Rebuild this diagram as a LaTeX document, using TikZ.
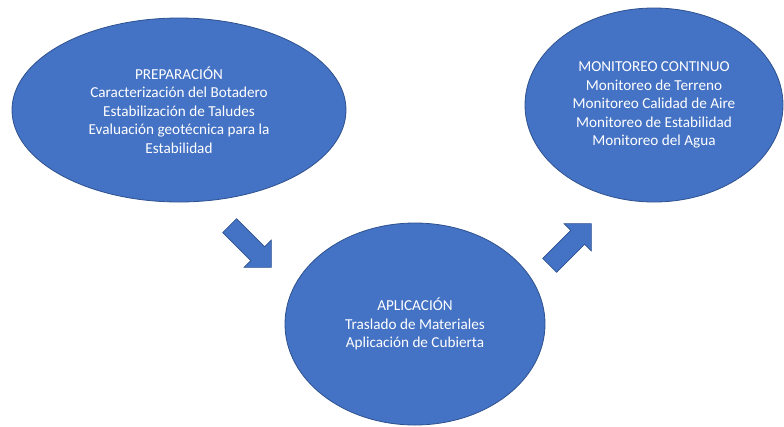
\documentclass[tikz,border=0pt]{standalone}
\usepackage{fontspec}
\setmainfont{Carlito}
\usetikzlibrary{shapes.geometric,shapes.arrows}
\definecolor{officeblue}{HTML}{4472C4}
\definecolor{officeedge}{HTML}{2F528F}
\tikzset{
  phase/.style={ellipse, fill=officeblue, draw=officeedge, line width=0.8pt,
    text=white, align=center, font=\fontsize{15.2}{18.4}\selectfont, inner sep=0pt},
  blockarrow/.style={single arrow, fill=officeblue, draw=officeedge, line width=0.6pt,
    single arrow tip angle=90, single arrow head extend=9.5pt,
    minimum height=59pt, minimum width=38pt, inner xsep=0pt, inner ysep=9.5pt,
    text height=0pt, text depth=0pt, anchor=center}
}
\begin{document}
\begin{tikzpicture}[x=1pt,y=-1pt]
\useasboundingbox (0,0) rectangle (784,426);
\fill[white] (0,0) rectangle (784,426);
\node[phase, minimum width=334pt, minimum height=184pt] (prep) at (179,110)
  {PREPARACIÓN\\Caracterización del Botadero\\Estabilización de Taludes\\Evaluación geotécnica para la\\Estabilidad};
\node[phase, minimum width=260pt, minimum height=202pt] (apl) at (415,324)
  {APLICACIÓN\\Traslado de Materiales\\Aplicación de Cubierta};
\node[phase, minimum width=258pt, minimum height=194pt] (mon) at (654,105)
  {MONITOREO CONTINUO\\Monitoreo de Terreno\\Monitoreo Calidad de Aire\\Monitoreo de Estabilidad\\Monitoreo del Agua};
\node[blockarrow, rotate=-45] (a1) at (247,243) {};
\node[blockarrow, rotate=45] (a2) at (567,248) {};
\end{tikzpicture}
\end{document}
